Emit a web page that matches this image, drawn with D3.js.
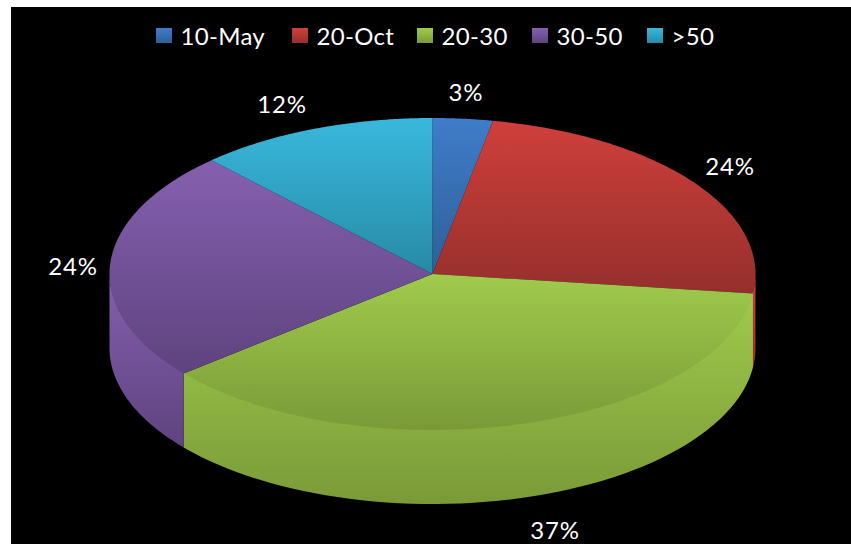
<!DOCTYPE html>
<html><head><meta charset="utf-8">
<script src="https://cdn.jsdelivr.net/npm/d3@7/dist/d3.min.js"></script>
<style>html,body{margin:0;padding:0;background:#fff}svg{display:block}text{font-family:Lato,"Open Sans",sans-serif;fill:#fff;letter-spacing:.8px}text.leg{letter-spacing:.3px}</style>
</head><body><svg id="c" width="851" height="548"></svg>
<script>
const categories = ["10-May","20-Oct","20-30","30-50",">50"];
const values = [3,24,37,24,12];
const labels = ["3%","24%","37%","24%","12%"];
const topLight = ["#3f7cca","#d03f3b","#a0cb4c","#8660b0","#39b8dc"];
const topDark  = ["#2e6097","#952f2c","#7a9a38","#5e437f","#278aa6"];
const W=851,H=548;
const svg=d3.select("#c");
svg.append("rect").attr("x",11).attr("y",7).attr("width",W-11).attr("height",H-7-4).attr("fill","#000");
const cx=432.5,cy=274,rx=323,ry=156,depth=74;
const px=d3.scaleLinear().domain([-1,1]).range([cx-rx,cx+rx]);
const py=d3.scaleLinear().domain([-1,1]).range([cy-ry,cy+ry]);
const arcs=d3.pie().sort(null).value(d=>d)(values);
const defs=svg.append("defs");
function grad(id,y1,y2,c1,c2){
  const g=defs.append("linearGradient").attr("id",id).attr("gradientUnits","userSpaceOnUse")
    .attr("x1",0).attr("x2",0).attr("y1",y1).attr("y2",y2);
  g.append("stop").attr("offset",0).attr("stop-color",c1);
  g.append("stop").attr("offset",1).attr("stop-color",c2);
}
const ptAt=(t,d=0)=>[px(Math.sin(t)),py(-Math.cos(t))+d];
const line=d3.line();
arcs.forEach((a,i)=>{
  const s=Math.max(a.startAngle,Math.PI/2),e=Math.min(a.endAngle,Math.PI*1.5);
  if(e<=s) return;
  const ts=d3.range(0,61).map(k=>s+(e-s)*k/60);
  const ptsTop=ts.map(t=>ptAt(t,-1.5));
  const ptsBot=ts.slice().reverse().map(t=>ptAt(t,depth));
  const ys=ptsTop.concat(ptsBot).map(p=>p[1]);
  grad("w"+i,d3.min(ys),d3.max(ys),topLight[i],topDark[i]);
  svg.append("path").attr("d",line(ptsTop.concat(ptsBot))+"Z").attr("fill",`url(#w${i})`);
});
arcs.forEach((a,i)=>{
  const ts=d3.range(0,121).map(k=>a.startAngle+(a.endAngle-a.startAngle)*k/120);
  const pts=[[cx,cy]].concat(ts.map(t=>ptAt(t)));
  const ys=pts.map(p=>p[1]);
  grad("t"+i,d3.min(ys),d3.max(ys),topLight[i],topDark[i]);
  svg.append("path").attr("d",line(pts)+"Z").attr("fill",`url(#t${i})`);
});
const labelPos=[[466,93],[730,167],[555,531],[73,267],[282,105]];
labels.forEach((t,i)=>svg.append("text").attr("x",labelPos[i][0]).attr("y",labelPos[i][1])
  .attr("dy","0.35em").attr("text-anchor","middle").attr("font-size",24).text(t));
const legX=[156,292,417,532,647];
categories.forEach((c,i)=>{
  const id="l"+i;grad(id,28,43,topLight[i],topDark[i]);
  svg.append("rect").attr("x",legX[i]).attr("y",28).attr("width",16).attr("height",15).attr("fill",`url(#${id})`);
  svg.append("text").attr("class","leg").attr("x",legX[i]+24.5).attr("y",37).attr("dy","0.35em").attr("font-size",24).text(c);
});
</script></body></html>
